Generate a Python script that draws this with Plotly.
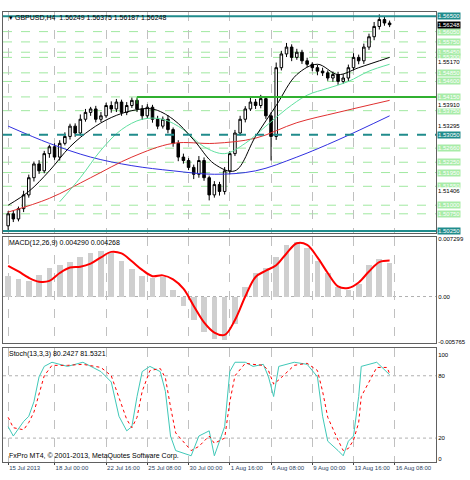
import plotly.graph_objects as go

# ---- data ----
closes = [1.5075, 1.5060, 1.5090, 1.5130, 1.5180, 1.5220, 1.5200, 1.5250,
          1.5270, 1.5240, 1.5280, 1.5300, 1.5330, 1.5310, 1.5350,
          1.5370, 1.5380, 1.5350, 1.5360, 1.5390, 1.5380, 1.5400, 1.5370, 1.5390, 1.5405,
          1.5380, 1.5360, 1.5385, 1.5350, 1.5330, 1.5350, 1.5320, 1.5280, 1.5240,
          1.5230, 1.5210, 1.5190, 1.5230, 1.5180, 1.5130, 1.5160, 1.5140, 1.5200,
          1.5250, 1.5310, 1.5350, 1.5380, 1.5400, 1.5390, 1.5410, 1.5360, 1.5300,
          1.5500, 1.5540, 1.5560, 1.5530, 1.5545, 1.5520, 1.5510, 1.5500,
          1.5490, 1.5485, 1.5470, 1.5480, 1.5460, 1.5470, 1.5500, 1.5530,
          1.5520, 1.5560, 1.5590, 1.5620, 1.5640, 1.5630, 1.5625]
first_open = 1.5040
wick_up = [8, 10, 6, 12, 9, 7, 11, 8, 6, 10, 9, 12, 7, 8, 14, 10, 6, 9, 11, 8, 12, 9, 7, 10, 8,
           6, 11, 9, 7, 10, 8, 12, 6, 9, 10, 7, 8, 13, 9, 6, 10, 8, 11, 7, 9, 10, 8, 12, 9, 11,
           7, 10, 15, 9, 12, 8, 10, 7, 9, 6, 8, 10, 7, 9, 8, 11, 9, 12, 8, 10, 9, 13, 15, 8, 7]
wick_dn = [12, 9, 7, 10, 8, 11, 9, 7, 12, 8, 10, 6, 9, 11, 8, 7, 10, 9, 8, 6, 11, 9, 10, 8, 7,
           9, 12, 8, 10, 9, 7, 11, 10, 12, 9, 8, 14, 10, 9, 16, 8, 12, 9, 10, 7, 8, 9, 6, 10, 8,
           9, 70, 10, 8, 9, 11, 7, 9, 8, 10, 12, 9, 8, 11, 10, 7, 9, 8, 10, 9, 8, 10, 9, 8, 7]

ma_black_x = [0, 8, 16, 24, 32, 40, 48, 56, 64, 72, 80, 88, 96, 104, 112, 120, 128, 136, 148]
ma_black = [1.5100, 1.5140, 1.5200, 1.5270, 1.5320, 1.5355, 1.5375, 1.5380, 1.5350, 1.5290,
            1.5220, 1.5200, 1.5300, 1.5390, 1.5480, 1.5510, 1.5480, 1.5500, 1.5530]
ma_green_x = [20, 28, 36, 44, 52, 60, 68, 76, 84, 92, 100, 108, 116, 124, 132, 140, 148]
ma_green = [1.5110, 1.5180, 1.5260, 1.5320, 1.5350, 1.5350, 1.5320, 1.5270, 1.5250, 1.5280,
            1.5330, 1.5380, 1.5420, 1.5440, 1.5460, 1.5490, 1.5510]
ma_red_x = [0, 16, 32, 48, 64, 80, 96, 112, 128, 148]
ma_red = [1.5080, 1.5120, 1.5180, 1.5240, 1.5280, 1.5280, 1.5295, 1.5340, 1.5370, 1.5405]
ma_blue_x = [0, 16, 32, 48, 64, 80, 96, 112, 128, 148]
ma_blue = [1.5330, 1.5280, 1.5240, 1.5215, 1.5200, 1.5190, 1.5200, 1.5240, 1.5290, 1.5360]

level_lines = [1.5605, 1.5575, 1.5545, 1.5530, 1.5485, 1.5460, 1.5415, 1.5375,
               1.5266, 1.5225, 1.5195, 1.5155, 1.5100, 1.5075]
level_labels = ["1.56050", "1.55750", "1.55450", "1.55300", "1.54850", "1.54600", "1.54150",
                "1.53750", "1.52660", "1.52250", "1.51950", "1.51550", "1.51000", "1.50750"]
ma_tags = [1.5517, 1.5391, 1.53295, 1.51406]
ma_tag_labels = ["1.55170", "1.53910", "1.53295", "1.51406"]

macd_x = list(range(0, 149, 4))
macd_main = [.0026, .0022, .0020, .0028, .0036, .0040, .0044, .0050, .0056, .0058, .0055, .0045,
             .0035, .0026, .0024, .0025, .0008, -.0012, -.0030, -.0045, -.0054, -.0055, -.0035,
             .0012, .0030, .0036, .0050, .0066, .0070, .0062, .0045, .0030, .0012, .0008, .0016,
             .0040, .0048, .0043]
macd_signal = [.0039, .0032, .0024, .0019, .0020, .0030, .0037, .0038, .0042, .0050, .0057, .0055,
               .0045, .0034, .0026, .0027, .0022, .0010, -.0012, -.0033, -.0046, -.0049, -.0030,
               .0000, .0025, .0033, .0040, .0055, .0068, .0066, .0050, .0030, .0013, .0011, .0018,
               .0032, .0044, .0046]

stoch_x = [0, 2, 6, 8, 10, 12, 14, 17, 23, 29, 36, 40, 43, 46, 48, 50, 52, 55, 59, 61, 63, 65,
           71, 74, 78, 80, 84, 86, 88, 92, 95, 99, 101, 103, 105, 111, 116, 120, 122, 124, 128,
           130, 132, 134, 136, 137, 143, 147, 148]
stoch_k = [31, 22, 36, 41, 55, 79, 89, 93, 89, 93, 84, 74, 41, 27, 31, 60, 84, 89, 84, 65, 22, 8,
           3, 22, 27, 3, 31, 84, 93, 93, 89, 91, 79, 60, 89, 93, 91, 79, 41, 17, 8,
           3, 17, 22, 60, 89, 93, 84, 81]
stoch_d = [40, 30, 28, 35, 45, 62, 80, 90, 90, 91, 88, 80, 60, 38, 30, 40, 65, 85, 87, 78, 50, 25,
           8, 12, 22, 15, 20, 55, 80, 92, 91, 90, 85, 72, 76, 90, 92, 85, 65, 40, 18,
           8, 10, 18, 35, 60, 88, 88, 82]

tick_pos = [0, 18, 38, 54, 70, 86, 102, 118, 134, 150]
tick_text = ["15 Jul 2013", "18 Jul 00:00", "22 Jul 16:00", "25 Jul 08:00", "30 Jul 00:00",
             "1 Aug 16:00", "6 Aug 08:00", "9 Aug 00:00", "13 Aug 16:00", "16 Aug 08:00"]

# ---- build ----
bars = [2 * i for i in range(len(closes))]
opens = [first_open] + closes[:-1]
highs = [max(o, c) + w / 10000 for o, c, w in zip(opens, closes, wick_up)]
lows = [min(o, c) - w / 10000 for o, c, w in zip(opens, closes, wick_dn)]

fig = go.Figure()
fig.add_trace(go.Candlestick(x=bars, open=opens, high=highs, low=lows, close=closes,
                             increasing=dict(line=dict(color="black", width=1), fillcolor="white"),
                             decreasing=dict(line=dict(color="black", width=1), fillcolor="black"),
                             whiskerwidth=0, xaxis="x", yaxis="y"))
for xs, ys, col in [(ma_blue_x, ma_blue, "#3030e0"), (ma_red_x, ma_red, "#e03030"),
                    (ma_green_x, ma_green, "#60e0a0"), (ma_black_x, ma_black, "black")]:
    fig.add_trace(go.Scatter(x=xs, y=ys, mode="lines", line=dict(color=col, width=1, shape="spline"),
                             xaxis="x", yaxis="y"))

fig.add_trace(go.Bar(x=macd_x, y=macd_main, marker=dict(color="#cfcfcf", line_width=0), width=2.2,
                     xaxis="x2", yaxis="y2"))
fig.add_trace(go.Scatter(x=macd_x, y=macd_signal, mode="lines",
                         line=dict(color="red", width=2, shape="spline"), xaxis="x2", yaxis="y2"))
fig.add_trace(go.Scatter(x=stoch_x, y=stoch_k, mode="lines", line=dict(color="#40c8b8", width=1),
                         xaxis="x3", yaxis="y3"))
fig.add_trace(go.Scatter(x=stoch_x, y=stoch_d, mode="lines",
                         line=dict(color="red", width=1, dash="dot"), xaxis="x3", yaxis="y3"))

shapes = []
for lv in level_lines:
    shapes.append(dict(type="line", xref="x", yref="y", x0=-2, x1=166, y0=lv, y1=lv,
                       line=dict(color="#a0e8a0", width=1, dash="dash"), layer="below"))
for lv, dash in [(1.5650, "solid"), (1.5025, "solid"), (1.5305, "dash")]:
    shapes.append(dict(type="line", xref="x", yref="y", x0=-2, x1=166, y0=lv, y1=lv,
                       line=dict(color="#208c8c", width=2, dash=dash)))
shapes.append(dict(type="line", xref="x", yref="y", x0=50, x1=166, y0=1.5415, y1=1.5415,
                   line=dict(color="#30b030", width=2)))
shapes.append(dict(type="line", xref="x", yref="y", x0=50, x1=50, y0=1.5415, y1=1.5395,
                   line=dict(color="#30b030", width=1)))
for ya, yl in [("y2", 0), ("y3", 20), ("y3", 80)]:
    xr = "x2" if ya == "y2" else "x3"
    shapes.append(dict(type="line", xref=xr, yref=ya, x0=-2, x1=166, y0=yl, y1=yl,
                       line=dict(color="#b0b0b0", width=1, dash="dot"), layer="below"))

ann = []
small = dict(family="Liberation Sans, Arial", size=7, color="black")
tiny = dict(family="Liberation Sans, Arial", size=6, color="black")
for lv, lb in zip(level_lines + [1.5650, 1.5025, 1.5305], level_labels + ["1.56500", "1.50250", "1.53050"]):
    teal = lb in ("1.56500", "1.50250", "1.53050")
    ann.append(dict(x=1.0, xref="paper", y=lv, yref="y", xanchor="left", xshift=1, text=lb,
                    showarrow=False, bgcolor="#208c8c" if teal else "#a8eca8",
                    font=dict(family="Liberation Sans, Arial", size=6, color="white"), borderpad=0))
for lv, lb in zip(ma_tags, ma_tag_labels):
    ann.append(dict(x=1.0, xref="paper", y=lv, yref="y", xanchor="left", xshift=1, text=lb,
                    showarrow=False, font=tiny, bgcolor="white", borderpad=0))
ann.append(dict(x=1.0, xref="paper", y=closes[-1], yref="y", xanchor="left", xshift=1, text="1.56248",
                showarrow=False, font=dict(family="Liberation Sans, Arial", size=6, color="white"),
                bgcolor="black", borderpad=0))
ann.append(dict(x=0.01, xref="paper", y=1.0, yref="paper", xanchor="left", yanchor="top",
                text="▾ GBPUSD,H4  1.56249 1.56375 1.56187 1.56248", showarrow=False, font=small))
ann.append(dict(x=0.01, xref="paper", y=0.5, yref="paper", xanchor="left", yanchor="top",
                text="MACD(12,26,9) 0.004290 0.004268", showarrow=False, font=small))
ann.append(dict(x=0.01, xref="paper", y=0.254, yref="paper", xanchor="left", yanchor="top",
                text="Stoch(13,3,3) 80.2427 81.5321", showarrow=False, font=small))
ann.append(dict(x=0.01, xref="paper", y=0.0, yref="paper", xanchor="left", yanchor="bottom",
                text="FxPro MT4, © 2001-2013, MetaQuotes Software Corp.", showarrow=False, font=small))

xcommon = dict(range=[-2, 166], showgrid=True, gridcolor="#c0c0c0", griddash="dash",
               tickvals=tick_pos, showline=True, linecolor="#606060", mirror=True,
               zeroline=False, rangeslider=dict(visible=False), fixedrange=True)
ycommon = dict(side="right", showline=True, linecolor="#606060", mirror=True, zeroline=False,
               tickfont=tiny, ticks="", showgrid=False)

fig.update_layout(
    width=470, height=480, showlegend=False, plot_bgcolor="white", paper_bgcolor="white",
    margin=dict(l=3, r=34, t=12, b=18),
    xaxis=dict(xcommon, domain=[0, 1], anchor="y", showticklabels=False),
    xaxis2=dict(xcommon, domain=[0, 1], anchor="y2", showticklabels=False),
    xaxis3=dict(xcommon, domain=[0, 1], anchor="y3", ticktext=tick_text, tickangle=0,
                ticklabelposition="outside right",
                tickfont=dict(family="Liberation Sans, Arial", size=6), ticks="outside", ticklen=2),
    yaxis=dict(ycommon, domain=[0.508, 1], range=[1.5018, 1.5662], showticklabels=False),
    yaxis2=dict(ycommon, domain=[0.265, 0.5], range=[-0.0059, 0.0076],
                tickvals=[0.007299, 0, -0.005765], ticktext=["0.007299", "0.00", "-0.005765"]),
    yaxis3=dict(ycommon, domain=[0, 0.254], range=[-3, 107], tickvals=[0, 20, 80, 100]),
    shapes=shapes, annotations=ann, bargap=0,
)

fig.write_html("out.html", config={"displayModeBar": False},
               post_script="document.body.style.margin='0';")
